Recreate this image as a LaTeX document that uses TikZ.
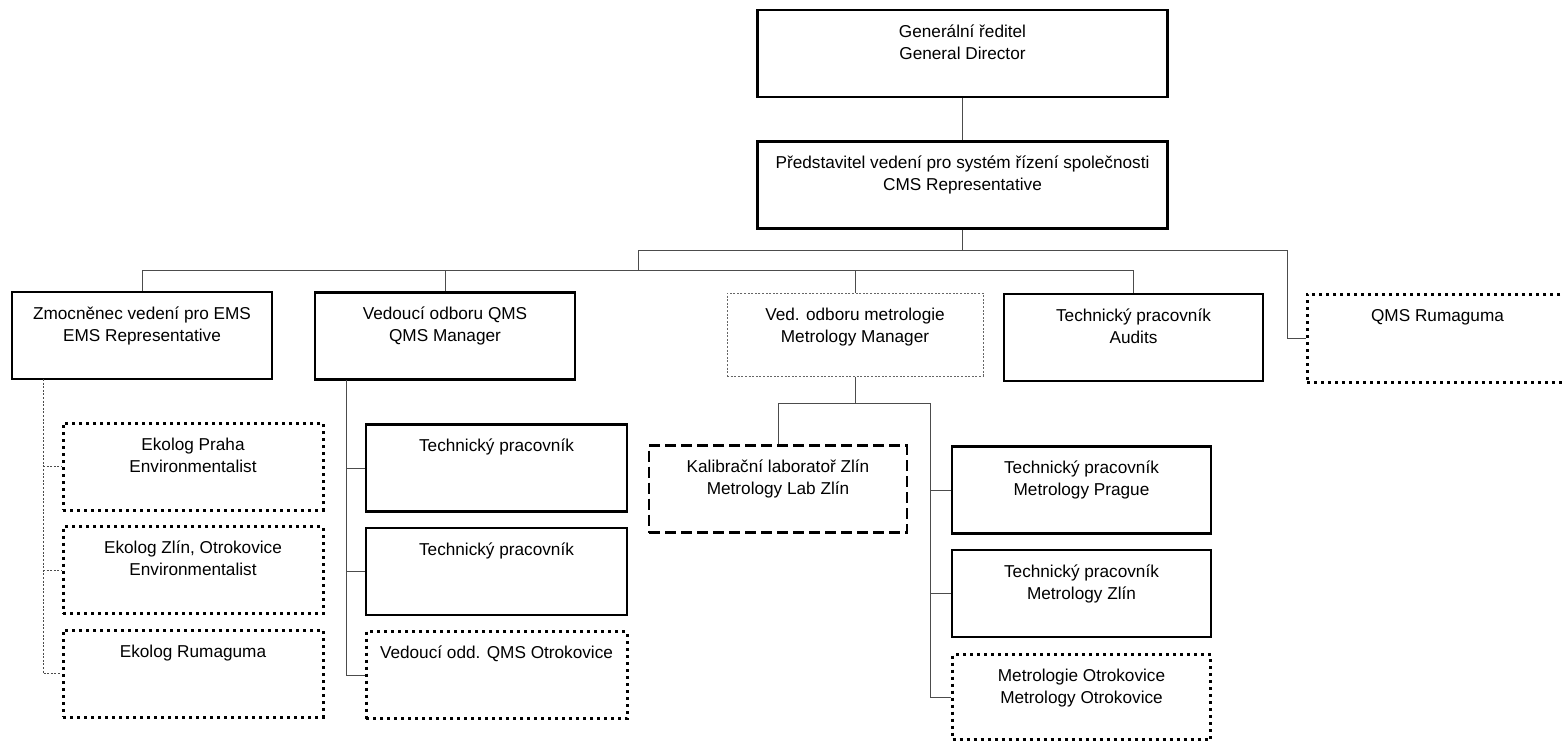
\documentclass[tikz,border=0pt]{standalone}
\usepackage{fontspec}
\setmainfont{Liberation Sans}
\usetikzlibrary{positioning}
\newcommand{\cell}[3][43.5pt]{\begin{minipage}[c][#1][t]{#2}\centering\rule{0pt}{13.5pt}#3\end{minipage}}
\tikzset{node distance=51.75pt,
    every node/.style={
        inner sep=0pt,
        font=\fontsize{8.6}{11}\selectfont},
    unit/.style={
        draw,
        line width=1.4pt},
    dotunit/.style={
        draw,
        line width=1.5pt,
        dash pattern=on 1.5pt off 2pt},
    dashunit/.style={
        draw,
        line width=1.4pt,
        dash pattern=on 5.5pt off 2.5pt},
    thinunit/.style={
        draw=black!60,
        line width=0.5pt,
        dash pattern=on 1pt off 0.8pt},
    link/.style={
        draw=black!70,
        line width=0.5pt},
    dotlink/.style={
        link,
        dash pattern=on 1pt off 0.8pt}}
\begin{document}
\begin{tikzpicture}[x=0.5pt,y=-0.5pt]
        \useasboundingbox (0,0) rectangle (1562,740);
        \node[unit] (gd) at (962.5,53.5) {\cell{205pt}{Generální ředitel\\General Director}};
        \node[unit,below of=gd,node distance=65.75pt] (cms) {\cell{205pt}{Představitel vedení pro systém řízení společnosti\\CMS Representative}};

        \node[unit] (ems) at (142,335.5) {\cell{130pt}{Zmocněnec vedení pro EMS\\EMS Representative}};
        \node[unit] (qms) at (445,336) {\cell{130pt}{Vedoucí odboru QMS\\QMS Manager}};
        \node[thinunit] (met) at (855,334.5) {\cell[41.5pt]{128pt}{Ved. odboru metrologie\\Metrology Manager}};
        \node[unit] (aud) at (1133.5,337.5) {\cell{129.5pt}{Technický pracovník\\Audits}};
        \node[dotunit] (qr) at (1437.5,338) {\cell[44pt]{130.5pt}{QMS Rumaguma}};

        \node[dotunit] (eko1) at (193,466.5) {\cell{130pt}{Ekolog Praha\\Environmentalist}};
        \node[dotunit,below of=eko1] (eko2) {\cell{130pt}{Ekolog Zlín, Otrokovice\\Environmentalist}};
        \node[dotunit,below of=eko2] (eko3) {\cell{130pt}{Ekolog Rumaguma}};

        \node[unit] (tq1) at (496.5,468) {\cell{130.5pt}{Technický pracovník}};
        \node[unit,below of=tq1] (tq2) {\cell{130.5pt}{Technický pracovník}};
        \node[dotunit,below of=tq2] (vq) {\cell{130.5pt}{Vedoucí odd. QMS Otrokovice}};

        \node[dashunit] (kal) at (778,489) {\cell{129pt}{Kalibrační laboratoř Zlín\\Metrology Lab Zlín}};
        \node[unit] (tm1) at (1081.5,490) {\cell{129.5pt}{Technický pracovník\\Metrology Prague}};
        \node[unit,below of=tm1] (tm2) {\cell{129.5pt}{Technický pracovník\\Metrology Zlín}};
        \node[dotunit,below of=tm2] (mo) {\cell[42.5pt]{129pt}{Metrologie Otrokovice\\Metrology Otrokovice}};

        % top levels
        \coordinate (hubl) at (638,250);
        \coordinate (hubr) at (1287,250);
        \coordinate (bus) at (638,270);
        \draw[link] (gd) -- (cms);
        \draw[link] (cms.south) -- (cms.south |- hubl);
        \draw[link] (hubl) -- (hubr) |- (qr.west);
        \draw[link] (hubl) -- (bus);
        \draw[link] (ems.north) -- (ems.north |- bus) -- (aud.north |- bus) -- (aud.north);
        \foreach \n in {qms,met}
            \draw[link] (\n.north) -- (\n.north |- bus);

        % EMS
        \coordinate (emsrail) at (43,379);
        \draw[dotlink] (emsrail) |- (eko3.west);
        \foreach \n in {eko1,eko2}
            \draw[dotlink] (emsrail |- \n.west) -- (\n.west);

        % QMS
        \coordinate (qmsrail) at (346,380);
        \draw[link] (qmsrail) |- (vq.west);
        \foreach \n in {tq1,tq2}
            \draw[link] (qmsrail |- \n.west) -- (\n.west);

        % metrology
        \coordinate (metl) at (779,403);
        \coordinate (metr) at (930,403);
        \draw[link] (met.south) -- (met.south |- metl);
        \draw[link] (kal.north) |- (metr) |- (mo.west);
        \foreach \n in {tm1,tm2}
            \draw[link] (metr |- \n.west) -- (\n.west);
    \end{tikzpicture}
\end{document}
